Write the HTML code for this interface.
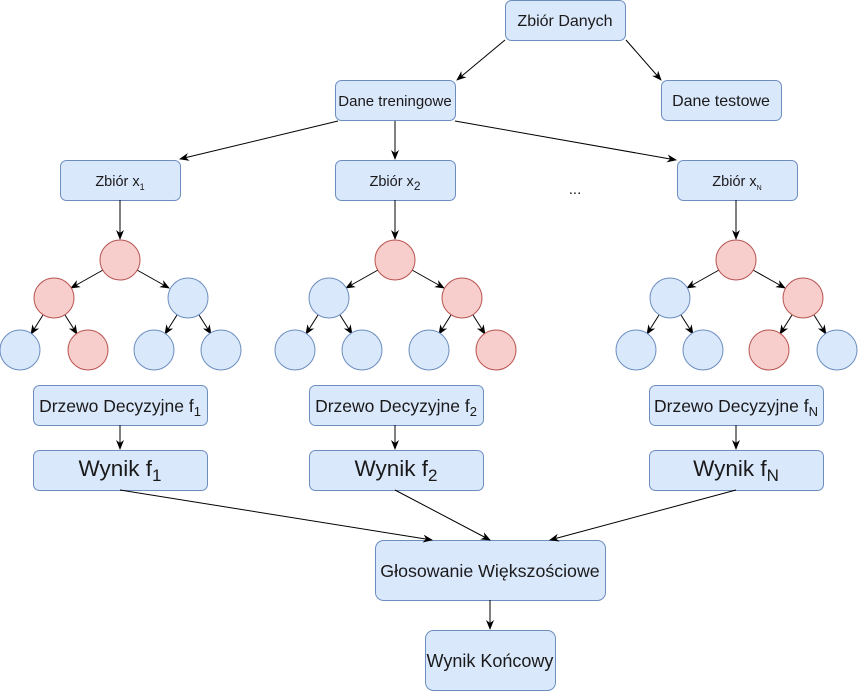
<!DOCTYPE html>
<html><head><meta charset="utf-8"><style>
body{margin:0;background:#fff}
text{font-family:"Liberation Sans",sans-serif;fill:#1a1a1a}
</style></head><body>
<svg width="858" height="691" viewBox="0 0 858 691" xmlns="http://www.w3.org/2000/svg">
<defs><marker id="a" markerWidth="10" markerHeight="8" refX="9" refY="4" orient="auto" markerUnits="userSpaceOnUse"><path d="M0,0 L10,4 L0,8 L3,4 Z" fill="#000"/></marker></defs>
<g fill="#dae8fc" stroke="#6c8ebf" stroke-width="1">
<rect x="505.5" y="0.5" width="120" height="40" rx="6"/>
<rect x="335.5" y="80.5" width="120" height="40" rx="6"/>
<rect x="661.5" y="80.5" width="120" height="40" rx="6"/>
<rect x="60.5" y="160.5" width="120" height="40" rx="6"/>
<rect x="335.5" y="160.5" width="120" height="40" rx="6"/>
<rect x="677.5" y="160.5" width="120" height="40" rx="6"/>
<rect x="33.5" y="385.5" width="174" height="40" rx="6"/>
<rect x="309.5" y="385.5" width="174" height="40" rx="6"/>
<rect x="649.5" y="385.5" width="174" height="40" rx="6"/>
<rect x="33.5" y="450.5" width="174" height="40" rx="6"/>
<rect x="309.5" y="450.5" width="174" height="40" rx="6"/>
<rect x="649.5" y="450.5" width="174" height="40" rx="6"/>
<rect x="375.5" y="540.5" width="230" height="60" rx="8"/>
<rect x="425.5" y="630.5" width="130" height="60" rx="8"/>
</g>
<g stroke="#000" stroke-width="1" marker-end="url(#a)" fill="none">
<line x1="505" y1="40" x2="457" y2="80"/>
<line x1="626" y1="40" x2="661" y2="80"/>
<line x1="338" y1="121" x2="180" y2="159"/>
<line x1="395" y1="121" x2="395" y2="159"/>
<line x1="455" y1="121" x2="676" y2="160"/>
<line x1="120" y1="200" x2="120" y2="239"/>
<line x1="395" y1="200" x2="395" y2="239"/>
<line x1="736" y1="200" x2="736" y2="239"/>
<line x1="120" y1="425" x2="120" y2="449"/>
<line x1="395" y1="425" x2="395" y2="449"/>
<line x1="736" y1="425" x2="736" y2="449"/>
<line x1="120" y1="490" x2="432" y2="540"/>
<line x1="395" y1="490" x2="490" y2="540"/>
<line x1="736" y1="490" x2="550" y2="540"/>
<line x1="490" y1="600" x2="490" y2="629"/>
</g>
<g stroke="#000" stroke-width="1" marker-end="url(#a)">
<line x1="103" y1="270" x2="71" y2="288"/><line x1="137" y1="270" x2="169" y2="288"/>
<line x1="43" y1="315" x2="31" y2="334"/><line x1="65" y1="315" x2="77" y2="334"/>
<line x1="177" y1="315" x2="165" y2="334"/><line x1="199" y1="315" x2="211" y2="334"/>
<line x1="378" y1="270" x2="346" y2="288"/><line x1="412" y1="270" x2="444" y2="288"/>
<line x1="318" y1="315" x2="306" y2="334"/><line x1="340" y1="315" x2="352" y2="334"/>
<line x1="451" y1="315" x2="439" y2="334"/><line x1="473" y1="315" x2="485" y2="334"/>
<line x1="719" y1="270" x2="687" y2="288"/><line x1="753" y1="270" x2="785" y2="288"/>
<line x1="659" y1="315" x2="647" y2="334"/><line x1="681" y1="315" x2="693" y2="334"/>
<line x1="792" y1="315" x2="780" y2="334"/><line x1="814" y1="315" x2="826" y2="334"/>
</g>
<g stroke-width="1">
<g fill="#f8cecc" stroke="#b85450">
<circle cx="120" cy="260" r="20"/><circle cx="54" cy="298" r="20"/><circle cx="88" cy="350" r="20"/>
<circle cx="395" cy="260" r="20"/><circle cx="462" cy="298" r="20"/><circle cx="496" cy="350" r="20"/>
<circle cx="736" cy="260" r="20"/><circle cx="803" cy="298" r="20"/><circle cx="769" cy="350" r="20"/>
</g>
<g fill="#dae8fc" stroke="#6c8ebf">
<circle cx="188" cy="298" r="20"/><circle cx="20" cy="350" r="20"/><circle cx="154" cy="350" r="20"/><circle cx="221" cy="350" r="20"/>
<circle cx="329" cy="298" r="20"/><circle cx="295" cy="350" r="20"/><circle cx="362" cy="350" r="20"/><circle cx="429" cy="350" r="20"/>
<circle cx="670" cy="298" r="20"/><circle cx="636" cy="350" r="20"/><circle cx="703" cy="350" r="20"/><circle cx="837" cy="350" r="20"/>
</g>
</g>
<g text-anchor="middle">
<text x="565" y="26" font-size="16">Zbiór Danych</text>
<text x="395" y="106" font-size="15">Dane treningowe</text>
<text x="721" y="106" font-size="16">Dane testowe</text>
<text x="120" y="186" font-size="14.5">Zbiór x<tspan font-size="9" dy="4">1</tspan></text>
<text x="395" y="186" font-size="14.5">Zbiór x<tspan font-size="12" dy="4">2</tspan></text>
<text x="737" y="186" font-size="14.5">Zbiór x<tspan font-size="7" dy="4">N</tspan></text>
<text x="575" y="194" font-size="15">...</text>
<text x="120" y="412" font-size="17.5">Drzewo Decyzyjne f<tspan font-size="13" dy="4">1</tspan></text>
<text x="396" y="412" font-size="17.5">Drzewo Decyzyjne f<tspan font-size="13" dy="4">2</tspan></text>
<text x="736" y="412" font-size="17.5">Drzewo Decyzyjne f<tspan font-size="13" dy="4">N</tspan></text>
<text x="120" y="476" font-size="22.5">Wynik f<tspan font-size="17" dy="5">1</tspan></text>
<text x="396" y="476" font-size="22.5">Wynik f<tspan font-size="17" dy="5">2</tspan></text>
<text x="736" y="476" font-size="22.5">Wynik f<tspan font-size="17" dy="5">N</tspan></text>
<text x="490" y="577" font-size="17.8">Głosowanie Większościowe</text>
<text x="490" y="667" font-size="18">Wynik Końcowy</text>
</g>
</svg>
</body></html>
